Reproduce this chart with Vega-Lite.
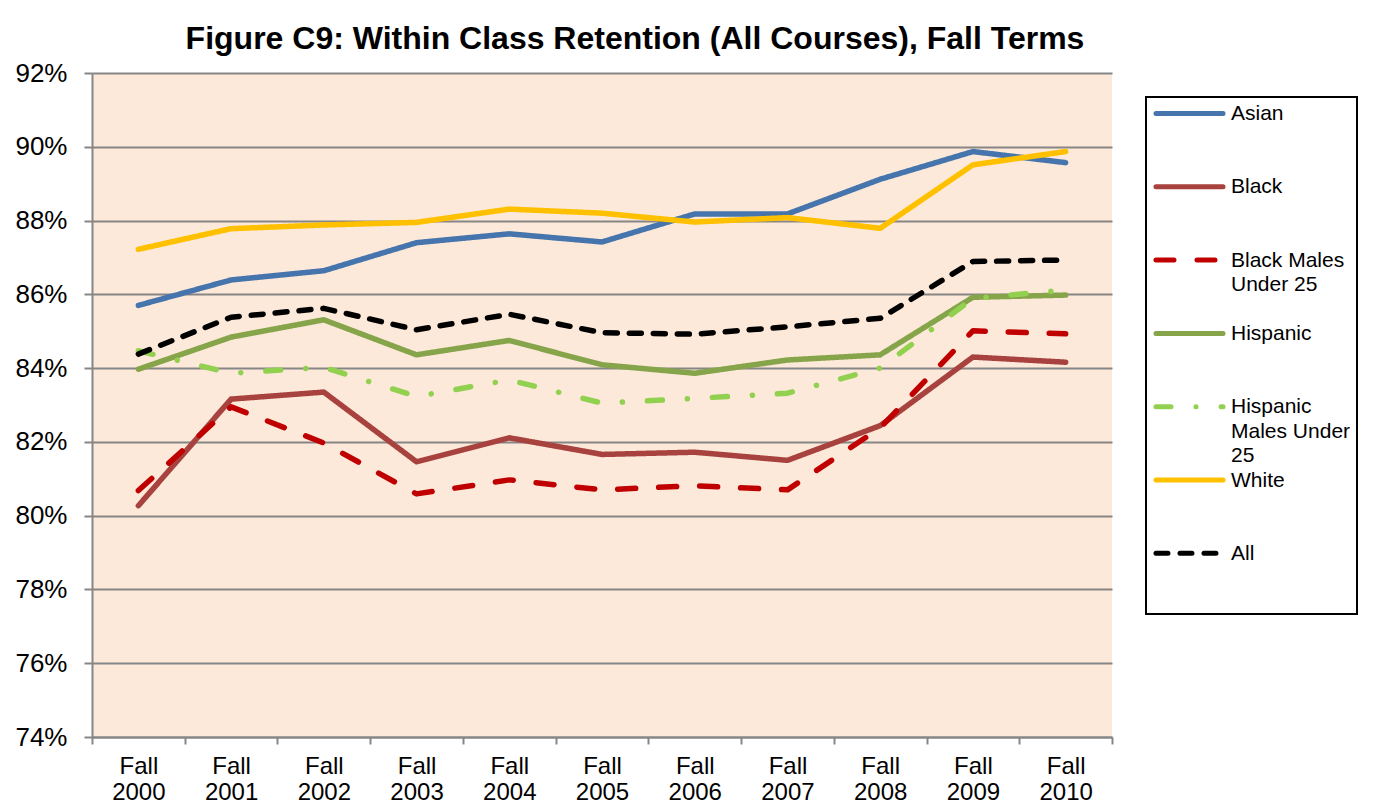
{
  "$schema": "https://vega.github.io/schema/vega-lite/v6.json",
  "width": 1020,
  "height": 664,
  "autosize": {"type": "none"},
  "padding": {"left": 92, "top": 73, "right": 271, "bottom": 71},
  "background": "white",
  "title": {
    "text": "Figure C9: Within Class Retention (All Courses), Fall Terms",
    "font": "Liberation Sans",
    "fontSize": 32,
    "fontWeight": "bold",
    "color": "black",
    "anchor": "middle",
    "frame": "group",
    "dx": 33,
    "baseline": "alphabetic",
    "offset": -21
  },
  "config": {
    "view": {"fill": "#FDE9D9", "stroke": null},
    "font": "Liberation Sans"
  },
  "data": {
    "values": [
      {"term": "Fall 2000", "group": "Asian", "v": 85.70},
      {"term": "Fall 2001", "group": "Asian", "v": 86.39},
      {"term": "Fall 2002", "group": "Asian", "v": 86.64},
      {"term": "Fall 2003", "group": "Asian", "v": 87.40},
      {"term": "Fall 2004", "group": "Asian", "v": 87.64},
      {"term": "Fall 2005", "group": "Asian", "v": 87.42},
      {"term": "Fall 2006", "group": "Asian", "v": 88.18},
      {"term": "Fall 2007", "group": "Asian", "v": 88.18},
      {"term": "Fall 2008", "group": "Asian", "v": 89.12},
      {"term": "Fall 2009", "group": "Asian", "v": 89.87},
      {"term": "Fall 2010", "group": "Asian", "v": 89.57},
      {"term": "Fall 2000", "group": "Black", "v": 80.27},
      {"term": "Fall 2001", "group": "Black", "v": 83.16},
      {"term": "Fall 2002", "group": "Black", "v": 83.35},
      {"term": "Fall 2003", "group": "Black", "v": 81.46},
      {"term": "Fall 2004", "group": "Black", "v": 82.11},
      {"term": "Fall 2005", "group": "Black", "v": 81.66},
      {"term": "Fall 2006", "group": "Black", "v": 81.72},
      {"term": "Fall 2007", "group": "Black", "v": 81.50},
      {"term": "Fall 2008", "group": "Black", "v": 82.44},
      {"term": "Fall 2009", "group": "Black", "v": 84.30},
      {"term": "Fall 2010", "group": "Black", "v": 84.16},
      {"term": "Fall 2000", "group": "Black Males Under 25", "v": 80.68},
      {"term": "Fall 2001", "group": "Black Males Under 25", "v": 82.95},
      {"term": "Fall 2002", "group": "Black Males Under 25", "v": 81.97},
      {"term": "Fall 2003", "group": "Black Males Under 25", "v": 80.59},
      {"term": "Fall 2004", "group": "Black Males Under 25", "v": 80.97},
      {"term": "Fall 2005", "group": "Black Males Under 25", "v": 80.70},
      {"term": "Fall 2006", "group": "Black Males Under 25", "v": 80.81},
      {"term": "Fall 2007", "group": "Black Males Under 25", "v": 80.70},
      {"term": "Fall 2008", "group": "Black Males Under 25", "v": 82.38},
      {"term": "Fall 2009", "group": "Black Males Under 25", "v": 85.01},
      {"term": "Fall 2010", "group": "Black Males Under 25", "v": 84.93},
      {"term": "Fall 2000", "group": "Hispanic", "v": 83.97},
      {"term": "Fall 2001", "group": "Hispanic", "v": 84.84},
      {"term": "Fall 2002", "group": "Hispanic", "v": 85.31},
      {"term": "Fall 2003", "group": "Hispanic", "v": 84.36},
      {"term": "Fall 2004", "group": "Hispanic", "v": 84.75},
      {"term": "Fall 2005", "group": "Hispanic", "v": 84.09},
      {"term": "Fall 2006", "group": "Hispanic", "v": 83.86},
      {"term": "Fall 2007", "group": "Hispanic", "v": 84.22},
      {"term": "Fall 2008", "group": "Hispanic", "v": 84.36},
      {"term": "Fall 2009", "group": "Hispanic", "v": 85.92},
      {"term": "Fall 2010", "group": "Hispanic", "v": 85.98},
      {"term": "Fall 2000", "group": "Hispanic Males Under 25", "v": 84.47},
      {"term": "Fall 2001", "group": "Hispanic Males Under 25", "v": 83.86},
      {"term": "Fall 2002", "group": "Hispanic Males Under 25", "v": 84.02},
      {"term": "Fall 2003", "group": "Hispanic Males Under 25", "v": 83.23},
      {"term": "Fall 2004", "group": "Hispanic Males Under 25", "v": 83.68},
      {"term": "Fall 2005", "group": "Hispanic Males Under 25", "v": 83.05},
      {"term": "Fall 2006", "group": "Hispanic Males Under 25", "v": 83.18},
      {"term": "Fall 2007", "group": "Hispanic Males Under 25", "v": 83.32},
      {"term": "Fall 2008", "group": "Hispanic Males Under 25", "v": 84.00},
      {"term": "Fall 2009", "group": "Hispanic Males Under 25", "v": 85.89},
      {"term": "Fall 2010", "group": "Hispanic Males Under 25", "v": 86.12},
      {"term": "Fall 2000", "group": "White", "v": 87.22},
      {"term": "Fall 2001", "group": "White", "v": 87.78},
      {"term": "Fall 2002", "group": "White", "v": 87.88},
      {"term": "Fall 2003", "group": "White", "v": 87.95},
      {"term": "Fall 2004", "group": "White", "v": 88.31},
      {"term": "Fall 2005", "group": "White", "v": 88.20},
      {"term": "Fall 2006", "group": "White", "v": 87.96},
      {"term": "Fall 2007", "group": "White", "v": 88.08},
      {"term": "Fall 2008", "group": "White", "v": 87.79},
      {"term": "Fall 2009", "group": "White", "v": 89.51},
      {"term": "Fall 2010", "group": "White", "v": 89.87},
      {"term": "Fall 2000", "group": "All", "v": 84.38},
      {"term": "Fall 2001", "group": "All", "v": 85.38},
      {"term": "Fall 2002", "group": "All", "v": 85.62},
      {"term": "Fall 2003", "group": "All", "v": 85.04},
      {"term": "Fall 2004", "group": "All", "v": 85.46},
      {"term": "Fall 2005", "group": "All", "v": 84.96},
      {"term": "Fall 2006", "group": "All", "v": 84.92},
      {"term": "Fall 2007", "group": "All", "v": 85.12},
      {"term": "Fall 2008", "group": "All", "v": 85.35},
      {"term": "Fall 2009", "group": "All", "v": 86.89},
      {"term": "Fall 2010", "group": "All", "v": 86.93}
    ]
  },
  "mark": {"type": "line", "strokeWidth": 5.5, "strokeCap": "round", "strokeJoin": "round"},
  "encoding": {
    "x": {
      "field": "term",
      "type": "ordinal",
      "sort": null,
      "scale": {"type": "band", "paddingInner": 0, "paddingOuter": 0},
      "axis": {
        "title": null,
        "labelExpr": "datum.value ? split(datum.value, ' ') : ''",
        "labelFontSize": 24,
        "labelColor": "black",
        "labelLineHeight": 26,
        "labelPadding": 10,
        "labelBaseline": "top",
        "labelAngle": 0,
        "tickBand": "extent",
        "tickSize": 7,
        "tickColor": "#868686",
        "tickWidth": 2,
        "domainColor": "#868686",
        "domainWidth": 2,
        "grid": false
      }
    },
    "y": {
      "field": "v",
      "type": "quantitative",
      "scale": {"domain": [74, 92], "nice": false, "zero": false},
      "axis": {
        "title": null,
        "values": [74, 76, 78, 80, 82, 84, 86, 88, 90, 92],
        "labelExpr": "datum.value + '%'",
        "labelFontSize": 26,
        "labelColor": "black",
        "labelPadding": 17,
        "tickSize": 8,
        "tickColor": "#868686",
        "tickWidth": 2,
        "domainColor": "#868686",
        "domainWidth": 2,
        "grid": true,
        "gridColor": "#868686",
        "gridWidth": 2
      }
    },
    "color": {
      "field": "group",
      "type": "nominal",
      "scale": {
        "domain": ["Asian", "Black", "Black Males Under 25", "Hispanic", "Hispanic Males Under 25", "White", "All"],
        "range": ["#4674AC", "#A8423F", "#C00000", "#86A54B", "#92D050", "#FFC000", "#000000"]
      },
      "legend": {
        "title": " ",
        "titleOrient": "bottom",
        "titleFontSize": 20,
        "titlePadding": 24,
        "orient": "none",
        "legendX": 1054,
        "legendY": 24,
        "padding": 6,
        "strokeColor": "black",
        "fillColor": "white",
        "symbolType": "M-4.47,0L4.47,0",
        "symbolSize": 225,
        "symbolStrokeWidth": 5,
        "symbolOffset": 27,
        "labelOffset": 31,
        "labelFontSize": 21,
        "labelColor": "black",
        "labelLimit": 300,
        "labelBaseline": "top",
        "rowPadding": 3.3,
        "gridAlign": "all",
        "labelExpr": "datum.label == 'Black Males Under 25' ? ['Black Males', 'Under 25'] : datum.label == 'Hispanic Males Under 25' ? ['Hispanic', 'Males Under', '25'] : datum.label",
        "encode": {
          "labels": {"update": {"dy": {"value": -10.5}, "lineHeight": {"value": 24.5}}},
          "symbols": {"update": {"strokeCap": {"value": "round"}, "fill": {"value": "transparent"}}},
          "legend": {"update": {"strokeWidth": {"value": 2}}}
        }
      }
    },
    "strokeDash": {
      "field": "group",
      "type": "nominal",
      "scale": {
        "domain": ["Asian", "Black", "Black Males Under 25", "Hispanic", "Hispanic Males Under 25", "White", "All"],
        "range": [[1, 0], [1, 0], [18, 23], [1, 0], [15, 25, 0.1, 25], [1, 0], [12, 12]]
      }
    }
  }
}
